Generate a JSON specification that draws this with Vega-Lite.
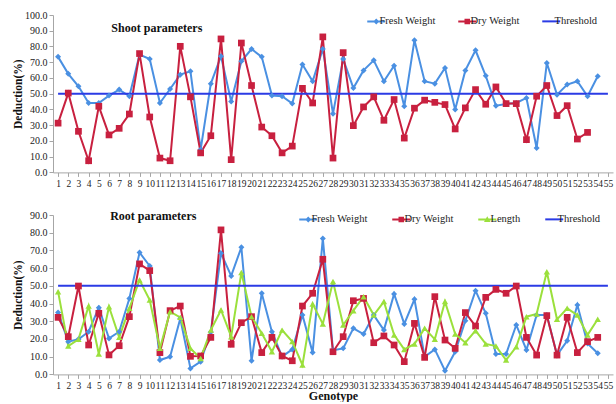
{
  "$schema": "https://vega.github.io/schema/vega-lite/v6.json",
  "padding": {"left": 12, "top": 10, "right": 2, "bottom": 0},
  "background": "white",
  "spacing": 22,
  "resolve": {
    "scale": {"color": "independent", "shape": "independent"},
    "legend": {"color": "independent", "shape": "independent"}
  },
  "config": {
    "view": {"stroke": null},
    "axis": {
      "grid": false,
      "domainColor": "#a6a6a6",
      "tickColor": "#a6a6a6",
      "tickSize": 4,
      "labelFont": "Liberation Serif",
      "labelFontSize": 10,
      "labelColor": "#222222",
      "labelPadding": 2,
      "titleFont": "Liberation Serif",
      "titleFontWeight": "bold",
      "titleColor": "#111111"
    },
    "legend": {
      "orient": "none",
      "direction": "horizontal",
      "title": null,
      "symbolSize": 100,
      "symbolStrokeWidth": 0,
      "symbolOpacity": 1,
      "labelOffset": 2,
      "padding": 0,
      "labelFont": "Liberation Serif",
      "labelFontSize": 10.5,
      "labelColor": "#222222"
    }
  },
  "datasets": {
    "top": [
      {"g":1,"s":"Fresh Weight","v":73.4},{"g":2,"s":"Fresh Weight","v":62.6},{"g":3,"s":"Fresh Weight","v":54.7},{"g":4,"s":"Fresh Weight","v":44.1},{"g":5,"s":"Fresh Weight","v":44.1},{"g":6,"s":"Fresh Weight","v":48.8},{"g":7,"s":"Fresh Weight","v":52.6},{"g":8,"s":"Fresh Weight","v":48.4},{"g":9,"s":"Fresh Weight","v":74.8},{"g":10,"s":"Fresh Weight","v":72.0},
      {"g":11,"s":"Fresh Weight","v":44.1},{"g":12,"s":"Fresh Weight","v":53.0},{"g":13,"s":"Fresh Weight","v":62.1},{"g":14,"s":"Fresh Weight","v":64.2},{"g":15,"s":"Fresh Weight","v":14.5},{"g":16,"s":"Fresh Weight","v":56.4},{"g":17,"s":"Fresh Weight","v":73.8},{"g":18,"s":"Fresh Weight","v":45.1},{"g":19,"s":"Fresh Weight","v":70.6},{"g":20,"s":"Fresh Weight","v":78.4},
      {"g":21,"s":"Fresh Weight","v":73.4},{"g":22,"s":"Fresh Weight","v":48.8},{"g":23,"s":"Fresh Weight","v":48.4},{"g":24,"s":"Fresh Weight","v":43.7},{"g":25,"s":"Fresh Weight","v":68.5},{"g":26,"s":"Fresh Weight","v":57.9},{"g":27,"s":"Fresh Weight","v":78.4},{"g":28,"s":"Fresh Weight","v":37.3},{"g":29,"s":"Fresh Weight","v":72.0},{"g":30,"s":"Fresh Weight","v":53.6},
      {"g":31,"s":"Fresh Weight","v":64.8},{"g":32,"s":"Fresh Weight","v":71.2},{"g":33,"s":"Fresh Weight","v":57.9},{"g":34,"s":"Fresh Weight","v":67.8},{"g":35,"s":"Fresh Weight","v":42.0},{"g":36,"s":"Fresh Weight","v":84.0},{"g":37,"s":"Fresh Weight","v":57.9},{"g":38,"s":"Fresh Weight","v":56.4},{"g":39,"s":"Fresh Weight","v":66.4},{"g":40,"s":"Fresh Weight","v":39.9},
      {"g":41,"s":"Fresh Weight","v":64.8},{"g":42,"s":"Fresh Weight","v":77.6},{"g":43,"s":"Fresh Weight","v":61.4},{"g":44,"s":"Fresh Weight","v":42.4},{"g":45,"s":"Fresh Weight","v":43.5},{"g":46,"s":"Fresh Weight","v":44.1},{"g":47,"s":"Fresh Weight","v":47.3},{"g":48,"s":"Fresh Weight","v":15.5},{"g":49,"s":"Fresh Weight","v":69.5},{"g":50,"s":"Fresh Weight","v":49.4},
      {"g":51,"s":"Fresh Weight","v":55.8},{"g":52,"s":"Fresh Weight","v":57.9},{"g":53,"s":"Fresh Weight","v":48.4},{"g":54,"s":"Fresh Weight","v":61.1},
      {"g":1,"s":"Dry Weight","v":31.3},{"g":2,"s":"Dry Weight","v":50.4},{"g":3,"s":"Dry Weight","v":26.1},{"g":4,"s":"Dry Weight","v":7.4},{"g":5,"s":"Dry Weight","v":42.0},{"g":6,"s":"Dry Weight","v":23.8},{"g":7,"s":"Dry Weight","v":28.0},{"g":8,"s":"Dry Weight","v":37.1},{"g":9,"s":"Dry Weight","v":75.5},{"g":10,"s":"Dry Weight","v":35.2},
      {"g":11,"s":"Dry Weight","v":9.1},{"g":12,"s":"Dry Weight","v":7.4},{"g":13,"s":"Dry Weight","v":80.1},{"g":14,"s":"Dry Weight","v":48.0},{"g":15,"s":"Dry Weight","v":12.4},{"g":16,"s":"Dry Weight","v":23.3},{"g":17,"s":"Dry Weight","v":84.8},{"g":18,"s":"Dry Weight","v":8.1},{"g":19,"s":"Dry Weight","v":82.2},{"g":20,"s":"Dry Weight","v":55.2},
      {"g":21,"s":"Dry Weight","v":28.8},{"g":22,"s":"Dry Weight","v":23.3},{"g":23,"s":"Dry Weight","v":12.4},{"g":24,"s":"Dry Weight","v":16.7},{"g":25,"s":"Dry Weight","v":53.4},{"g":26,"s":"Dry Weight","v":44.1},{"g":27,"s":"Dry Weight","v":86.1},{"g":28,"s":"Dry Weight","v":9.1},{"g":29,"s":"Dry Weight","v":76.1},{"g":30,"s":"Dry Weight","v":29.7},
      {"g":31,"s":"Dry Weight","v":41.6},{"g":32,"s":"Dry Weight","v":48.0},{"g":33,"s":"Dry Weight","v":33.1},{"g":34,"s":"Dry Weight","v":46.3},{"g":35,"s":"Dry Weight","v":21.8},{"g":36,"s":"Dry Weight","v":40.8},{"g":37,"s":"Dry Weight","v":45.9},{"g":38,"s":"Dry Weight","v":44.5},{"g":39,"s":"Dry Weight","v":43.1},{"g":40,"s":"Dry Weight","v":27.6},
      {"g":41,"s":"Dry Weight","v":41.0},{"g":42,"s":"Dry Weight","v":52.6},{"g":43,"s":"Dry Weight","v":43.3},{"g":44,"s":"Dry Weight","v":54.3},{"g":45,"s":"Dry Weight","v":43.7},{"g":46,"s":"Dry Weight","v":43.7},{"g":47,"s":"Dry Weight","v":20.8},{"g":48,"s":"Dry Weight","v":48.4},{"g":49,"s":"Dry Weight","v":55.2},{"g":50,"s":"Dry Weight","v":36.1},
      {"g":51,"s":"Dry Weight","v":42.4},{"g":52,"s":"Dry Weight","v":21.2},{"g":53,"s":"Dry Weight","v":25.4},
      {"g":1,"s":"Threshold","v":50},{"g":55,"s":"Threshold","v":50}
    ],
    "bot": [
      {"g":1,"s":"Fresh Weight","v":34.9},{"g":2,"s":"Fresh Weight","v":18.5},{"g":3,"s":"Fresh Weight","v":19.8},{"g":4,"s":"Fresh Weight","v":24.1},{"g":5,"s":"Fresh Weight","v":37.7},{"g":6,"s":"Fresh Weight","v":20.3},{"g":7,"s":"Fresh Weight","v":24.1},{"g":8,"s":"Fresh Weight","v":42.9},{"g":9,"s":"Fresh Weight","v":68.8},{"g":10,"s":"Fresh Weight","v":61.2},
      {"g":11,"s":"Fresh Weight","v":8.1},{"g":12,"s":"Fresh Weight","v":10.0},{"g":13,"s":"Fresh Weight","v":31.6},{"g":14,"s":"Fresh Weight","v":3.4},{"g":15,"s":"Fresh Weight","v":7.2},{"g":16,"s":"Fresh Weight","v":24.0},{"g":17,"s":"Fresh Weight","v":68.4},{"g":18,"s":"Fresh Weight","v":55.6},{"g":19,"s":"Fresh Weight","v":71.8},{"g":20,"s":"Fresh Weight","v":7.7},
      {"g":21,"s":"Fresh Weight","v":45.8},{"g":22,"s":"Fresh Weight","v":24.1},{"g":23,"s":"Fresh Weight","v":10.0},{"g":24,"s":"Fresh Weight","v":14.1},{"g":25,"s":"Fresh Weight","v":33.6},{"g":26,"s":"Fresh Weight","v":12.3},{"g":27,"s":"Fresh Weight","v":76.8},{"g":28,"s":"Fresh Weight","v":13.6},{"g":29,"s":"Fresh Weight","v":14.7},{"g":30,"s":"Fresh Weight","v":26.0},
      {"g":31,"s":"Fresh Weight","v":22.8},{"g":32,"s":"Fresh Weight","v":33.5},{"g":33,"s":"Fresh Weight","v":25.0},{"g":34,"s":"Fresh Weight","v":45.4},{"g":35,"s":"Fresh Weight","v":28.5},{"g":36,"s":"Fresh Weight","v":42.4},{"g":37,"s":"Fresh Weight","v":10.0},{"g":38,"s":"Fresh Weight","v":14.1},{"g":39,"s":"Fresh Weight","v":2.1},{"g":40,"s":"Fresh Weight","v":12.8},
      {"g":41,"s":"Fresh Weight","v":30.3},{"g":42,"s":"Fresh Weight","v":47.3},{"g":43,"s":"Fresh Weight","v":34.5},{"g":44,"s":"Fresh Weight","v":11.5},{"g":45,"s":"Fresh Weight","v":11.5},{"g":46,"s":"Fresh Weight","v":27.9},{"g":47,"s":"Fresh Weight","v":13.8},{"g":48,"s":"Fresh Weight","v":33.5},{"g":49,"s":"Fresh Weight","v":33.5},{"g":50,"s":"Fresh Weight","v":10.9},
      {"g":51,"s":"Fresh Weight","v":19.0},{"g":52,"s":"Fresh Weight","v":39.2},{"g":53,"s":"Fresh Weight","v":17.5},{"g":54,"s":"Fresh Weight","v":11.9},
      {"g":1,"s":"Dry Weight","v":32.2},{"g":2,"s":"Dry Weight","v":21.3},{"g":3,"s":"Dry Weight","v":49.9},{"g":4,"s":"Dry Weight","v":16.6},{"g":5,"s":"Dry Weight","v":34.5},{"g":6,"s":"Dry Weight","v":11.0},{"g":7,"s":"Dry Weight","v":16.2},{"g":8,"s":"Dry Weight","v":32.6},{"g":9,"s":"Dry Weight","v":62.4},{"g":10,"s":"Dry Weight","v":58.6},
      {"g":11,"s":"Dry Weight","v":12.3},{"g":12,"s":"Dry Weight","v":36.0},{"g":13,"s":"Dry Weight","v":38.6},{"g":14,"s":"Dry Weight","v":10.2},{"g":15,"s":"Dry Weight","v":10.4},{"g":16,"s":"Dry Weight","v":20.9},{"g":17,"s":"Dry Weight","v":81.6},{"g":18,"s":"Dry Weight","v":17.0},{"g":19,"s":"Dry Weight","v":29.2},{"g":20,"s":"Dry Weight","v":32.6},
      {"g":21,"s":"Dry Weight","v":12.3},{"g":22,"s":"Dry Weight","v":20.9},{"g":23,"s":"Dry Weight","v":10.4},{"g":24,"s":"Dry Weight","v":7.7},{"g":25,"s":"Dry Weight","v":38.6},{"g":26,"s":"Dry Weight","v":45.8},{"g":27,"s":"Dry Weight","v":65.0},{"g":28,"s":"Dry Weight","v":12.8},{"g":29,"s":"Dry Weight","v":21.3},{"g":30,"s":"Dry Weight","v":41.6},
      {"g":31,"s":"Dry Weight","v":42.9},{"g":32,"s":"Dry Weight","v":17.9},{"g":33,"s":"Dry Weight","v":21.7},{"g":34,"s":"Dry Weight","v":16.6},{"g":35,"s":"Dry Weight","v":7.2},{"g":36,"s":"Dry Weight","v":28.8},{"g":37,"s":"Dry Weight","v":9.6},{"g":38,"s":"Dry Weight","v":43.9},{"g":39,"s":"Dry Weight","v":19.4},{"g":40,"s":"Dry Weight","v":14.7},
      {"g":41,"s":"Dry Weight","v":34.9},{"g":42,"s":"Dry Weight","v":27.3},{"g":43,"s":"Dry Weight","v":43.5},{"g":44,"s":"Dry Weight","v":48.0},{"g":45,"s":"Dry Weight","v":45.8},{"g":46,"s":"Dry Weight","v":49.9},{"g":47,"s":"Dry Weight","v":20.9},{"g":48,"s":"Dry Weight","v":10.9},{"g":49,"s":"Dry Weight","v":33.2},{"g":50,"s":"Dry Weight","v":10.9},
      {"g":51,"s":"Dry Weight","v":32.2},{"g":52,"s":"Dry Weight","v":12.3},{"g":53,"s":"Dry Weight","v":18.5},{"g":54,"s":"Dry Weight","v":20.9},
      {"g":1,"s":"Length","v":46.7},{"g":2,"s":"Length","v":16.0},{"g":3,"s":"Length","v":19.8},{"g":4,"s":"Length","v":38.6},{"g":5,"s":"Length","v":11.5},{"g":6,"s":"Length","v":38.2},{"g":7,"s":"Length","v":20.9},{"g":8,"s":"Length","v":37.3},{"g":9,"s":"Length","v":53.3},{"g":10,"s":"Length","v":42.0},
      {"g":11,"s":"Length","v":14.7},{"g":12,"s":"Length","v":35.4},{"g":13,"s":"Length","v":32.2},{"g":14,"s":"Length","v":14.7},{"g":15,"s":"Length","v":9.0},{"g":16,"s":"Length","v":25.0},{"g":17,"s":"Length","v":36.4},{"g":18,"s":"Length","v":21.3},{"g":19,"s":"Length","v":57.5},{"g":20,"s":"Length","v":32.6},
      {"g":21,"s":"Length","v":23.2},{"g":22,"s":"Length","v":12.8},{"g":23,"s":"Length","v":25.0},{"g":24,"s":"Length","v":18.5},{"g":25,"s":"Length","v":5.3},{"g":26,"s":"Length","v":39.8},{"g":27,"s":"Length","v":28.5},{"g":28,"s":"Length","v":52.4},{"g":29,"s":"Length","v":27.9},{"g":30,"s":"Length","v":36.0},
      {"g":31,"s":"Length","v":43.9},{"g":32,"s":"Length","v":33.5},{"g":33,"s":"Length","v":41.1},{"g":34,"s":"Length","v":22.3},{"g":35,"s":"Length","v":14.1},{"g":36,"s":"Length","v":17.2},{"g":37,"s":"Length","v":26.0},{"g":38,"s":"Length","v":19.8},{"g":39,"s":"Length","v":41.1},{"g":40,"s":"Length","v":22.8},
      {"g":41,"s":"Length","v":17.9},{"g":42,"s":"Length","v":24.7},{"g":43,"s":"Length","v":17.2},{"g":44,"s":"Length","v":16.0},{"g":45,"s":"Length","v":8.1},{"g":46,"s":"Length","v":15.6},{"g":47,"s":"Length","v":32.6},{"g":48,"s":"Length","v":34.1},{"g":49,"s":"Length","v":58.0},{"g":50,"s":"Length","v":31.1},
      {"g":51,"s":"Length","v":37.3},{"g":52,"s":"Length","v":33.5},{"g":53,"s":"Length","v":22.3},{"g":54,"s":"Length","v":31.1},
      {"g":1,"s":"Threshold","v":50},{"g":55,"s":"Threshold","v":50}
    ]
  },
  "vconcat": [
    {
      "width": 560,
      "height": 157.4,
      "data": {"name": "top"},
      "encoding": {
        "x": {"field": "g", "type": "quantitative", "scale": {"domain": [0.5, 55.5], "nice": false, "zero": false},
              "axis": {"title": null, "labelFontSize": 9.5, "values": [1,2,3,4,5,6,7,8,9,10,11,12,13,14,15,16,17,18,19,20,21,22,23,24,25,26,27,28,29,30,31,32,33,34,35,36,37,38,39,40,41,42,43,44,45,46,47,48,49,50,51,52,53,54,55], "labelOverlap": false, "labelFlush": false}},
        "y": {"field": "v", "type": "quantitative", "scale": {"domain": [0, 100], "nice": false},
              "axis": {"title": "Deduction(%)", "values": [0,10,20,30,40,50,60,70,80,90,100], "format": ".1f", "titleX": -30, "titleFontSize": 11.5}},
        "color": {"field": "s", "type": "nominal",
            "scale": {"domain": ["Fresh Weight", "Dry Weight", "Threshold"], "range": ["#4A90E2", "#C8203F", "#2B3BE5"]},
            "legend": {"legendX": 314, "legendY": 1, "columnPadding": 22}}
      },
      "layer": [
        {"mark": {"type": "line", "strokeWidth": 2}},
        {"transform": [{"filter": "datum.s === 'Fresh Weight'"}],
         "mark": {"type": "point", "shape": "diamond", "filled": true, "size": 36, "opacity": 1}},
        {"transform": [{"filter": "datum.s === 'Dry Weight'"}],
         "mark": {"type": "point", "shape": "square", "filled": true, "size": 45, "opacity": 1}},
        {"mark": {"type": "point", "filled": true, "opacity": 0},
         "encoding": {
           "shape": {"field": "s", "type": "nominal",
             "scale": {"domain": ["Fresh Weight", "Dry Weight", "Threshold"],
                       "range": ["M-1,-0.2H2.6V0.2H-1Z M0.8,-0.6L1.4,0L0.8,0.6L0.2,0Z", "M-1,-0.2H2.6V0.2H-1Z M0.25,-0.55H1.35V0.55H0.25Z", "M-1,-0.2H2.6V0.2H-1Z"]},
             "legend": {"legendX": 314, "legendY": 1, "columnPadding": 22}}
         }},
        {"transform": [{"filter": "datum.g === 1 && datum.s === 'Threshold'"}],
         "mark": {"type": "text", "text": "Shoot parameters", "font": "Liberation Serif", "fontWeight": "bold", "fontSize": 12},
         "encoding": {"x": {"datum": 10.7}, "y": {"datum": 91.8}, "color": {"value": "#111111"}}}
      ]
    },
    {
      "width": 560,
      "height": 159.4,
      "data": {"name": "bot"},
      "encoding": {
        "x": {"field": "g", "type": "quantitative", "scale": {"domain": [0.5, 55.5], "nice": false, "zero": false},
              "axis": {"title": "Genotype", "titleFontSize": 12, "titlePadding": 1, "labelFontSize": 9.5, "values": [1,2,3,4,5,6,7,8,9,10,11,12,13,14,15,16,17,18,19,20,21,22,23,24,25,26,27,28,29,30,31,32,33,34,35,36,37,38,39,40,41,42,43,44,45,46,47,48,49,50,51,52,53,54,55], "labelOverlap": false, "labelFlush": false}},
        "y": {"field": "v", "type": "quantitative", "scale": {"domain": [0, 90], "nice": false},
              "axis": {"title": "Deduction(%)", "values": [0,10,20,30,40,50,60,70,80,90], "format": ".1f", "titleX": -30, "titleFontSize": 11.5}},
        "color": {"field": "s", "type": "nominal",
            "scale": {"domain": ["Fresh Weight", "Dry Weight", "Length", "Threshold"], "range": ["#4A90E2", "#C8203F", "#9BE03C", "#2B3BE5"]},
            "legend": {"legendX": 246, "legendY": -1, "columnPadding": 24}}
      },
      "layer": [
        {"mark": {"type": "line", "strokeWidth": 2}},
        {"transform": [{"filter": "datum.s === 'Fresh Weight'"}],
         "mark": {"type": "point", "shape": "diamond", "filled": true, "size": 36, "opacity": 1}},
        {"transform": [{"filter": "datum.s === 'Dry Weight'"}],
         "mark": {"type": "point", "shape": "square", "filled": true, "size": 45, "opacity": 1}},
        {"transform": [{"filter": "datum.s === 'Length'"}],
         "mark": {"type": "point", "shape": "triangle-up", "filled": true, "size": 40, "opacity": 1}},
        {"mark": {"type": "point", "filled": true, "opacity": 0},
         "encoding": {
           "shape": {"field": "s", "type": "nominal",
             "scale": {"domain": ["Fresh Weight", "Dry Weight", "Length", "Threshold"],
                       "range": ["M-1,-0.2H2.6V0.2H-1Z M0.8,-0.6L1.4,0L0.8,0.6L0.2,0Z", "M-1,-0.2H2.6V0.2H-1Z M0.25,-0.55H1.35V0.55H0.25Z", "M-1,-0.2H2.6V0.2H-1Z M0.8,-0.65L1.45,0.5H0.15Z", "M-1,-0.2H2.6V0.2H-1Z"]},
             "legend": {"legendX": 246, "legendY": -1, "columnPadding": 24}}
         }},
        {"transform": [{"filter": "datum.g === 1 && datum.s === 'Threshold'"}],
         "mark": {"type": "text", "text": "Root parameters", "font": "Liberation Serif", "fontWeight": "bold", "fontSize": 12},
         "encoding": {"x": {"datum": 10.35}, "y": {"datum": 89.4}, "color": {"value": "#111111"}}}
      ]
    }
  ]
}
